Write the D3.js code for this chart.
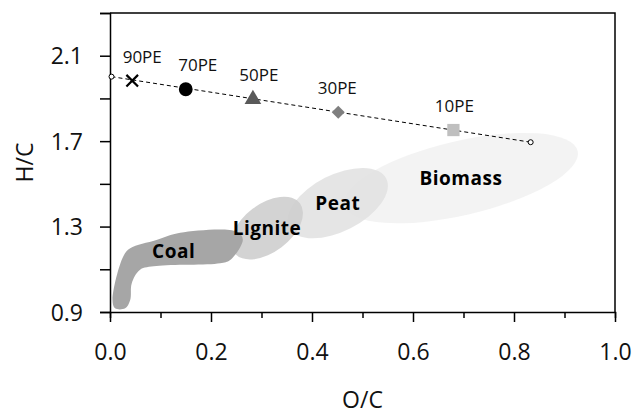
<!DOCTYPE html>
<html>
<head>
<meta charset="utf-8">
<script src="https://cdn.jsdelivr.net/npm/d3@7"></script>
<style>
  body { margin: 0; background: #fff; }
  text { font-family: "Open Sans", "Noto Sans", sans-serif; }
</style>
</head>
<body>
<script>
// data
const xTicks = [0, 0.2, 0.4, 0.6, 0.8, 1.0];
const yTicks = [0.9, 1.3, 1.7, 2.1];
const peLabels = ["90PE", "70PE", "50PE", "30PE", "10PE"];
const peX = [0.044, 0.150, 0.283, 0.452, 0.680];
const peY = [1.983, 1.943, 1.896, 1.835, 1.752];
const lineEnds = [[0.003, 2.002], [0.833, 1.695]];

// regions: center, end of long axis, short/long ratio
const regionNames = ["Biomass", "Peat", "Lignite"];
const regionCenter = [[0.695, 1.527], [0.451, 1.410], [0.311, 1.293]];
const regionAxisEnd = [[0.926, 1.654], [0.547, 1.525], [0.376, 1.409]];
const regionRatio = [0.31, 0.52, 0.585];
const coalOutline = [
  [0.005, 0.956], [0.026, 1.159], [0.040, 1.198], [0.092, 1.237], [0.139, 1.271],
  [0.251, 1.276], [0.263, 1.240], [0.238, 1.143], [0.218, 1.128], [0.092, 1.115],
  [0.059, 1.097], [0.043, 1.034], [0.040, 0.956], [0.030, 0.917], [0.010, 0.917]
];
const coalLabel = [0.126, 1.185];

const W = 637, H = 416;
const m = { left: 110, right: 22, top: 13, bottom: 104 };

const svg = d3.select("body").append("svg")
  .attr("width", W).attr("height", H);

const x = d3.scaleLinear().domain([0, 1]).range([m.left, W - m.right]);
const y = d3.scaleLinear().domain([0.9, 2.3]).range([H - m.bottom, m.top]);

// regions
const fills = ["#f2f2f2", "#e2e2e2", "#cecece"];
regionNames.forEach((name, i) => {
  const cx = x(regionCenter[i][0]), cy = y(regionCenter[i][1]);
  const ex = x(regionAxisEnd[i][0]), ey = y(regionAxisEnd[i][1]);
  const a = Math.hypot(ex - cx, ey - cy);
  const ang = Math.atan2(ey - cy, ex - cx) * 180 / Math.PI;
  svg.append("ellipse")
    .attr("cx", cx).attr("cy", cy)
    .attr("rx", a).attr("ry", a * regionRatio[i])
    .attr("transform", `rotate(${ang},${cx},${cy})`)
    .attr("fill", fills[i])
    .attr("fill-opacity", 0.9);
});

svg.append("path")
  .attr("d", d3.line().x(d => x(d[0])).y(d => y(d[1])).curve(d3.curveCatmullRomClosed)(coalOutline))
  .attr("fill", "#a6a6a6");

regionNames.forEach((name, i) => {
  svg.append("text")
    .attr("x", x(regionCenter[i][0])).attr("y", y(regionCenter[i][1]))
    .attr("dy", "0.35em")
    .attr("text-anchor", "middle")
    .attr("font-size", 19).attr("font-weight", "bold")
    .attr("letter-spacing", 0.5)
    .text(name);
});
svg.append("text")
  .attr("x", x(coalLabel[0])).attr("y", y(coalLabel[1]))
  .attr("dy", "0.35em")
  .attr("text-anchor", "middle")
  .attr("font-size", 19).attr("font-weight", "bold")
  .attr("letter-spacing", 0.5)
  .text("Coal");

// axes
const xAxis = svg.append("g")
  .attr("transform", `translate(0,${y(0.9)})`)
  .call(d3.axisBottom(x).tickValues(d3.range(0, 1.01, 0.1)).tickSize(6).tickFormat(""));
xAxis.selectAll(".tick line").filter((d, i) => i % 2 == 0).attr("y2", 10);
xAxis.selectAll(".tick")
  .filter(d => xTicks.some(t => Math.abs(t - d) < 1e-6))
  .append("text")
  .attr("y", 48).attr("fill", "#111")
  .attr("font-size", 23)
  .text(d => d.toFixed(1));

const yAxis = svg.append("g")
  .attr("transform", `translate(${x(0)},0)`)
  .call(d3.axisLeft(y).tickValues(d3.range(0.9, 2.31, 0.2)).tickSize(10).tickFormat(""));
yAxis.selectAll(".tick")
  .filter(d => yTicks.some(t => Math.abs(t - d) < 1e-6))
  .append("text")
  .attr("x", -27).attr("dy", "0.35em").attr("fill", "#111")
  .attr("text-anchor", "end")
  .attr("font-size", 23)
  .text(d => d.toFixed(1));

svg.selectAll(".domain, .tick line").attr("stroke", "#000").attr("stroke-width", 1.5);
svg.selectAll("g text").attr("font-family", null);

// frame top/right
svg.append("path")
  .attr("d", `M${x(0)},${y(2.3)}H${x(1)}V${y(0.9)}`)
  .attr("fill", "none").attr("stroke", "#000").attr("stroke-width", 1.5);

svg.append("text")
  .attr("x", (x(0) + x(1)) / 2).attr("y", 408)
  .attr("text-anchor", "middle").attr("font-size", 23).attr("fill", "#111")
  .text("O/C");
svg.append("text")
  .attr("transform", `translate(33,${(y(0.9) + y(2.3)) / 2}) rotate(-90)`)
  .attr("text-anchor", "middle").attr("font-size", 23).attr("fill", "#111")
  .text("H/C");

// dashed trend line
svg.append("path")
  .attr("d", d3.line().x(d => x(d[0])).y(d => y(d[1]))(lineEnds))
  .attr("stroke", "#000").attr("stroke-width", 1)
  .attr("stroke-dasharray", "4,3").attr("fill", "none");
svg.selectAll(".endpt").data(lineEnds).enter().append("circle")
  .attr("cx", d => x(d[0])).attr("cy", d => y(d[1])).attr("r", 2.5)
  .attr("fill", "#fff").attr("stroke", "#000").attr("stroke-width", 1);

// markers
const symbols = [d3.symbolTimes, d3.symbolCircle, d3.symbolTriangle, d3.symbolSquare, d3.symbolSquare];
const symSize = [90, 150, 120, 85, 150];
const symFill = ["none", "#000", "#595959", "#7f7f7f", "#bfbfbf"];
const labelDx = [10, 12, 6, -1, 1];
peLabels.forEach((lab, i) => {
  const px = x(peX[i]), py = y(peY[i]);
  let sym = d3.symbol().type(symbols[i]).size(symSize[i]);
  let p = svg.append("path")
    .attr("d", sym())
    .attr("transform", `translate(${px},${py})` + (i == 3 ? " rotate(45)" : ""))
    .attr("fill", symFill[i]);
  if (i == 0) p.attr("stroke", "#000").attr("stroke-width", 2.2);
  svg.append("text")
    .attr("x", px + labelDx[i]).attr("y", py - 18)
    .attr("text-anchor", "middle")
    .attr("font-size", 17).attr("fill", "#111")
    .text(lab);
});
</script>
</body>
</html>
